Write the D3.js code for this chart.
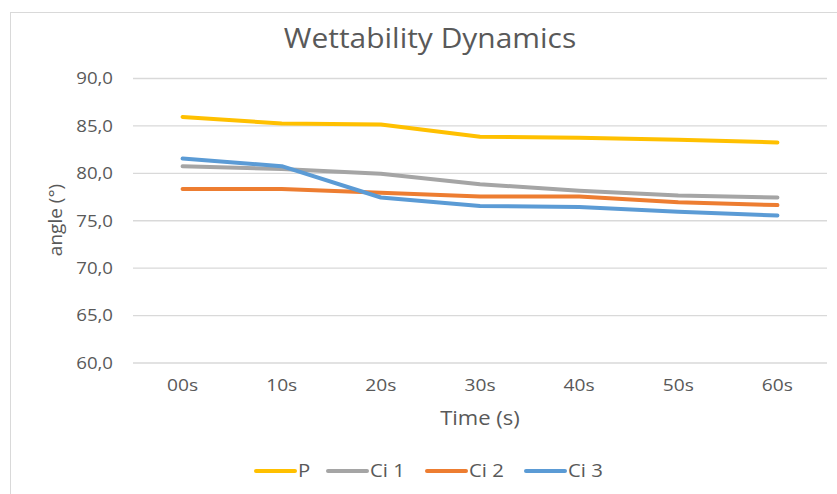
<!DOCTYPE html>
<html>
<head>
<meta charset="utf-8">
<script src="https://cdn.jsdelivr.net/npm/d3@7"></script>
<style>
  html, body { margin: 0; padding: 0; background: #fff; }
  svg { display: block; }
  text { font-family: "Open Sans", "Noto Sans", sans-serif; fill: #595959; }
</style>
</head>
<body>
<svg id="chart" width="837" height="494"></svg>
<script>
// Time points (categories)
const categories = ["00s", "10s", "20s", "30s", "40s", "50s", "60s"];

// Contact angle (°) per sample
const seriesNames = ["P", "Ci 1", "Ci 2", "Ci 3"];
const valuesP   = [85.9, 85.2, 85.1, 83.8, 83.7, 83.5, 83.2];
const valuesCi1 = [80.7, 80.4, 79.9, 78.8, 78.1, 77.6, 77.4];
const valuesCi2 = [78.3, 78.3, 77.9, 77.5, 77.5, 76.9, 76.6];
const valuesCi3 = [81.5, 80.7, 77.4, 76.5, 76.4, 75.9, 75.5];

// Y axis ticks
const yTicks = [60, 65, 70, 75, 80, 85, 90];

const colors = ["#FFC000", "#A5A5A5", "#ED7D31", "#5B9BD5"];
const series = [valuesP, valuesCi1, valuesCi2, valuesCi3].map((v, i) => ({
  name: seriesNames[i], values: v, color: colors[i]
}));

// Text is set slightly wide, like the original office-style rendering
const SX = 1.13;

const svg = d3.select("#chart");
const W = 837, H = 494;

// Chart area frame
svg.append("rect")
  .attr("x", 10.5).attr("y", 12.5)
  .attr("width", W + 20).attr("height", H + 20)
  .attr("fill", "#fff").attr("stroke", "#D9D9D9").attr("stroke-width", 1);

const plot = { left: 133, right: 827, top: 78, bottom: 362.5 };

const x = d3.scaleBand().domain(categories).range([plot.left, plot.right]);
const y = d3.scaleLinear().domain([60, 90]).range([plot.bottom, plot.top]);

// Horizontal gridlines with value labels
const yAxis = d3.axisLeft(y).tickValues(yTicks)
  .tickSize(-(plot.right - plot.left))
  .tickPadding(20)
  .tickFormat(d => d3.format(".1f")(d).replace(".", ","));

const gy = svg.append("g").attr("transform", `translate(${plot.left},0)`).call(yAxis);
gy.select(".domain").remove();
gy.selectAll(".tick line").attr("stroke", "#D9D9D9").attr("stroke-width", 1.3);
gy.selectAll(".tick text")
  .attr("font-size", 16.5).attr("fill", "#595959")
  .style("font-family", '"Open Sans", sans-serif')
  .attr("x", -20 / SX).attr("dy", "0.35em")
  .attr("transform", `scale(${SX},1)`);

// Category labels
const xAxis = d3.axisBottom(x).tickSize(0).tickPadding(16);
const gx = svg.append("g").attr("transform", `translate(0,${plot.bottom})`).call(xAxis);
gx.select(".domain").remove();
gx.selectAll(".tick text")
  .attr("font-size", 17).attr("fill", "#595959")
  .style("font-family", '"Open Sans", sans-serif')
  .attr("transform", `scale(${SX},1)`);

// Series lines
const line = d3.line()
  .x((d, i) => x(categories[i]) + x.bandwidth() / 2)
  .y(d => y(d));

svg.append("g").selectAll("path")
  .data(series)
  .join("path")
  .attr("d", d => line(d.values))
  .attr("fill", "none")
  .attr("stroke", d => d.color)
  .attr("stroke-width", 4)
  .attr("stroke-linejoin", "round")
  .attr("stroke-linecap", "round");

// Title
svg.append("text")
  .attr("transform", `translate(430,48) scale(${SX},1)`)
  .attr("text-anchor", "middle")
  .attr("font-size", 26.5)
  .text("Wettability Dynamics");

// Axis titles
svg.append("text")
  .attr("transform", `translate(480,425) scale(${SX},1)`)
  .attr("text-anchor", "middle")
  .attr("font-size", 19.5)
  .text("Time (s)");

svg.append("text")
  .attr("transform", "translate(62,220) rotate(-90)")
  .attr("text-anchor", "middle")
  .attr("font-size", 19)
  .text("angle (°)");

// Legend
const legendX = [256, 328, 427, 526];
const lg = svg.append("g").selectAll("g")
  .data(series)
  .join("g")
  .attr("transform", (d, i) => `translate(${legendX[i]},471)`);
lg.append("line")
  .attr("x1", 0).attr("x2", 39).attr("y1", 0).attr("y2", 0)
  .attr("stroke", d => d.color).attr("stroke-width", 4).attr("stroke-linecap", "round");
lg.append("text")
  .attr("transform", `translate(42,0) scale(${SX},1)`)
  .attr("dy", "0.35em")
  .attr("font-size", 18)
  .text(d => d.name);
</script>
</body>
</html>
